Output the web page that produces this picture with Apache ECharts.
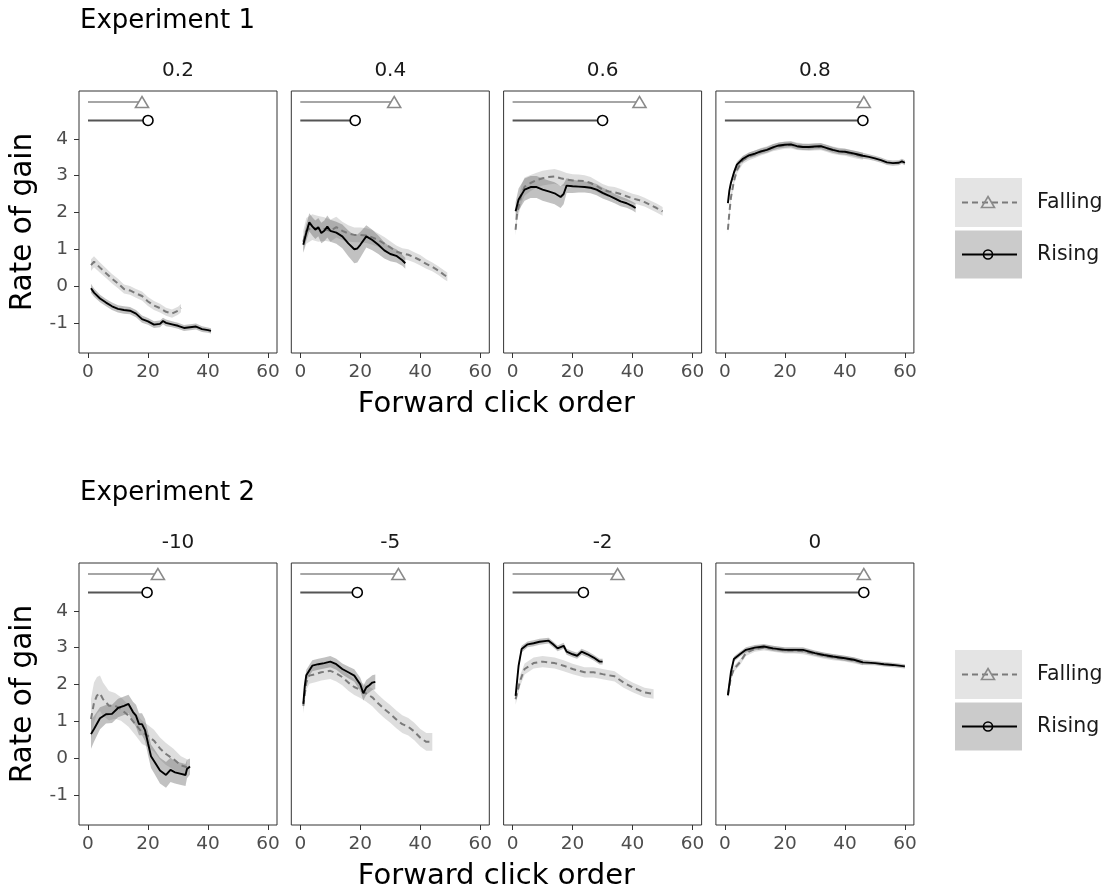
<!DOCTYPE html>
<html>
<head>
<meta charset="utf-8">
<script src="https://cdn.jsdelivr.net/npm/echarts@6/dist/echarts.min.js"></script>
<style>
  html, body { margin: 0; padding: 0; background: #ffffff; }
  #chart { width: 1110px; height: 890px; }
</style>
</head>
<body>
<div id="chart"></div>
<script>
// ---- Facets, ticks, labels ----
const experiments = ['Experiment 1', 'Experiment 2'];
const facetsE1 = ['0.2', '0.4', '0.6', '0.8'];
const facetsE2 = ['-10', '-5', '-2', '0'];
const groups = ['Falling', 'Rising'];
const xTicks = [0, 20, 40, 60];
const yTicks = [-1, 0, 1, 2, 3, 4];
const xTitle = 'Forward click order';
const yTitle = 'Rate of gain';

// ---- Curves: [click order, mean rate of gain, half-width of band] ----
// Experiment 1
const rise_e1_02 = [[1,-0.06,0.12],[2,-0.18,0.11],[4,-0.34,0.1],[6,-0.45,0.1],[8,-0.55,0.1],[10,-0.62,0.1],[12,-0.65,0.1],[14,-0.67,0.1],[16,-0.75,0.1],[18,-0.9,0.1],[20,-0.96,0.09],[22,-1.05,0.09],[24,-1.03,0.09],[25,-0.95,0.09],[26,-1.0,0.09],[28,-1.04,0.08],[30,-1.08,0.08],[32,-1.14,0.08],[34,-1.12,0.08],[36,-1.1,0.08],[38,-1.17,0.08],[40,-1.2,0.07],[41,-1.22,0.07]];
const fall_e1_02 = [[1,0.57,0.16],[2,0.66,0.15],[4,0.5,0.14],[6,0.35,0.13],[8,0.2,0.13],[10,0.07,0.13],[12,-0.08,0.12],[14,-0.12,0.12],[16,-0.2,0.12],[18,-0.27,0.12],[20,-0.42,0.12],[22,-0.53,0.12],[24,-0.6,0.12],[26,-0.7,0.11],[28,-0.75,0.11],[30,-0.67,0.11],[31,-0.6,0.11]];

const rise_e1_04 = [[1,1.12,0.2],[2,1.45,0.22],[3,1.73,0.25],[4,1.62,0.25],[5,1.53,0.25],[6,1.6,0.25],[7,1.44,0.28],[8,1.5,0.28],[9,1.62,0.3],[10,1.5,0.3],[12,1.45,0.3],[14,1.35,0.32],[16,1.16,0.35],[18,1.0,0.38],[19,1.02,0.38],[20,1.12,0.35],[22,1.35,0.3],[24,1.25,0.28],[26,1.12,0.25],[28,0.97,0.22],[30,0.87,0.2],[32,0.82,0.18],[34,0.7,0.15],[35,0.62,0.15]];
const fall_e1_04 = [[1,1.2,0.3],[2,1.5,0.35],[4,1.6,0.35],[6,1.55,0.35],[8,1.55,0.32],[10,1.5,0.3],[12,1.6,0.28],[14,1.5,0.25],[16,1.43,0.22],[18,1.39,0.2],[20,1.39,0.2],[22,1.37,0.2],[24,1.32,0.2],[26,1.25,0.18],[28,1.15,0.18],[30,1.05,0.17],[32,0.94,0.16],[34,0.88,0.15],[36,0.85,0.15],[38,0.78,0.14],[40,0.7,0.14],[42,0.6,0.13],[44,0.52,0.12],[46,0.42,0.12],[48,0.3,0.12],[49,0.25,0.12]];

const rise_e1_06 = [[1,2.03,0.25],[2,2.35,0.3],[4,2.62,0.3],[6,2.69,0.3],[8,2.69,0.3],[10,2.62,0.3],[12,2.57,0.3],[14,2.52,0.3],[16,2.42,0.3],[17,2.5,0.28],[18,2.73,0.2],[20,2.71,0.18],[22,2.7,0.16],[24,2.69,0.15],[26,2.67,0.15],[28,2.62,0.15],[30,2.53,0.15],[32,2.46,0.14],[34,2.38,0.13],[36,2.3,0.13],[38,2.25,0.12],[40,2.17,0.12],[41,2.12,0.12]];
const fall_e1_06 = [[1,1.53,0.15],[1.5,1.98,0.2],[3,2.5,0.25],[4,2.7,0.25],[6,2.8,0.22],[8,2.88,0.2],[10,2.93,0.2],[12,2.96,0.2],[14,2.98,0.2],[16,2.93,0.2],[18,2.89,0.18],[20,2.87,0.17],[22,2.86,0.17],[24,2.85,0.16],[26,2.8,0.16],[28,2.72,0.15],[30,2.62,0.15],[32,2.57,0.14],[34,2.55,0.14],[36,2.5,0.14],[38,2.44,0.13],[40,2.38,0.13],[42,2.34,0.13],[44,2.28,0.12],[46,2.2,0.12],[48,2.12,0.12],[50,2.03,0.12]];

const rise_e1_08 = [[1,2.25,0.08],[1.5,2.6,0.08],[2,2.8,0.08],[3,3.08,0.08],[4,3.3,0.08],[6,3.46,0.08],[8,3.55,0.08],[10,3.6,0.08],[12,3.66,0.08],[14,3.7,0.08],[16,3.77,0.08],[18,3.82,0.08],[20,3.84,0.08],[22,3.85,0.08],[24,3.8,0.08],[26,3.78,0.08],[28,3.78,0.08],[30,3.79,0.08],[32,3.8,0.08],[34,3.75,0.08],[36,3.7,0.08],[38,3.66,0.08],[40,3.65,0.08],[42,3.62,0.08],[44,3.58,0.08],[46,3.54,0.08],[48,3.51,0.07],[50,3.47,0.07],[52,3.42,0.07],[54,3.36,0.07],[56,3.34,0.07],[58,3.35,0.07],[59,3.39,0.07],[60,3.35,0.07]];
const fall_e1_08 = [[1,1.53,0.1],[1.5,2.0,0.1],[2,2.4,0.1],[3,2.85,0.1],[4,3.15,0.1],[6,3.42,0.1],[8,3.52,0.1],[10,3.58,0.1],[12,3.65,0.1],[14,3.7,0.1],[16,3.76,0.1],[18,3.8,0.1],[20,3.83,0.1],[22,3.84,0.1],[24,3.8,0.1],[26,3.78,0.1],[28,3.77,0.1],[30,3.78,0.1],[32,3.79,0.1],[34,3.74,0.1],[36,3.69,0.1],[38,3.66,0.1],[40,3.64,0.1],[42,3.6,0.1],[44,3.56,0.1],[46,3.53,0.1]];

// Experiment 2
const rise_e2_m10 = [[1,0.65,0.4],[2,0.79,0.35],[4,1.08,0.3],[6,1.19,0.25],[8,1.2,0.25],[10,1.36,0.25],[12,1.42,0.25],[13.5,1.47,0.25],[15,1.25,0.28],[16,1.15,0.3],[17,0.92,0.3],[18,0.92,0.3],[19,0.76,0.3],[20,0.4,0.32],[21,0.05,0.32],[22,-0.08,0.33],[24,-0.34,0.35],[26,-0.46,0.35],[27.5,-0.32,0.33],[29,-0.39,0.3],[31,-0.43,0.3],[32.5,-0.46,0.3],[33,-0.3,0.25],[34,-0.23,0.22]];
const fall_e2_m10 = [[1,1.06,0.55],[2,1.5,0.55],[3,1.7,0.5],[4,1.76,0.48],[5,1.6,0.45],[7,1.42,0.4],[9,1.42,0.35],[11,1.33,0.32],[13.5,1.15,0.3],[16,0.9,0.3],[18,0.7,0.32],[20,0.6,0.3],[22,0.47,0.3],[24,0.26,0.3],[26,0.11,0.3],[28.5,-0.03,0.28],[31,-0.2,0.25],[33,-0.25,0.22]];

const rise_e2_m5 = [[1,1.47,0.15],[1.5,1.96,0.15],[2,2.25,0.15],[4,2.51,0.15],[6,2.55,0.15],[8,2.58,0.15],[10,2.62,0.15],[12,2.55,0.15],[14,2.42,0.15],[16,2.33,0.16],[18,2.24,0.17],[20,2.0,0.18],[21,1.76,0.2],[22,1.92,0.2],[23,1.98,0.2],[24,2.05,0.2],[25,2.07,0.2]];
const fall_e2_m5 = [[1,1.42,0.2],[2,2.05,0.2],[3,2.24,0.22],[5,2.28,0.22],[7,2.33,0.22],[10,2.37,0.22],[12,2.3,0.22],[14,2.2,0.22],[16,2.05,0.22],[18,1.93,0.22],[20,1.85,0.22],[22,1.75,0.22],[24,1.65,0.24],[26,1.48,0.24],[28,1.33,0.24],[30,1.2,0.24],[32,1.05,0.24],[34,0.92,0.24],[36,0.85,0.24],[38,0.72,0.24],[40,0.55,0.24],[42,0.44,0.24],[44,0.44,0.24]];

const rise_e2_m2 = [[1,1.69,0.1],[2,2.51,0.1],[3,2.96,0.09],[5,3.09,0.08],[7,3.12,0.08],[9,3.16,0.08],[12,3.19,0.08],[13.5,3.09,0.08],[15,2.98,0.08],[17,3.05,0.08],[18,2.89,0.08],[20,2.82,0.08],[21.5,2.78,0.08],[23,2.89,0.08],[25,2.82,0.08],[27,2.73,0.08],[29,2.62,0.08],[30,2.62,0.08]];
const fall_e2_m2 = [[1,1.6,0.15],[2.5,2.1,0.15],[4,2.42,0.15],[7,2.58,0.15],[10,2.62,0.15],[14,2.58,0.15],[17,2.51,0.15],[20,2.42,0.14],[24,2.33,0.14],[27,2.33,0.14],[30,2.28,0.14],[34,2.22,0.14],[37,2.05,0.14],[40,1.92,0.13],[44,1.78,0.13],[47,1.74,0.13]];

const rise_e2_0 = [[1,1.71,0.07],[2,2.33,0.07],[3,2.69,0.07],[5,2.82,0.07],[7,2.94,0.07],[10,3.0,0.07],[13,3.03,0.07],[16,2.98,0.07],[20,2.94,0.07],[23,2.94,0.07],[26,2.94,0.07],[30,2.85,0.07],[33,2.8,0.07],[36,2.76,0.07],[40,2.71,0.07],[43,2.67,0.07],[46,2.6,0.07],[50,2.58,0.06],[53,2.55,0.06],[56,2.53,0.06],[60,2.49,0.06]];
const fall_e2_0 = [[1,1.7,0.08],[2,2.2,0.08],[3,2.42,0.08],[5,2.6,0.08],[7,2.85,0.08],[10,2.97,0.08],[13,3.0,0.08],[16,2.97,0.08],[20,2.92,0.08],[23,2.92,0.08],[26,2.9,0.08],[30,2.83,0.08],[33,2.78,0.08],[36,2.74,0.08],[40,2.7,0.08],[43,2.65,0.08],[46,2.6,0.08]];

// Extent of clicks per group (range bars at the top of each panel)
const fallEndE1 = [18, 31.3, 42.3, 46.3];
const riseEndE1 = [20, 18.3, 30, 46];
const fallEndE2 = [23.3, 32.7, 35, 46.3];
const riseEndE2 = [19.7, 19, 23.6, 46.3];
const fallRangeY = 5;
const riseRangeY = 4.5;

// ---- Layout & styles ----
const FONT = 'DejaVu Sans';
const GRID_LEFT = 79, GRID_STEP = 212.3, GRID_W = 198;
const GRID_TOP = 91, ROW_STEP = 472, GRID_H = 262;
const X_MIN = -3, X_MAX = 63, Y_MIN = -1.82, Y_MAX = 5.3;
const FALL_FILL = 'rgba(128,128,128,0.26)';
const RISE_FILL = 'rgba(100,100,100,0.40)';
const FALL_LINE = '#7a7a7a';
const RISE_LINE = '#000000';

const panels = [];
[[facetsE1, [rise_e1_02, rise_e1_04, rise_e1_06, rise_e1_08], [fall_e1_02, fall_e1_04, fall_e1_06, fall_e1_08], riseEndE1, fallEndE1],
 [facetsE2, [rise_e2_m10, rise_e2_m5, rise_e2_m2, rise_e2_0], [fall_e2_m10, fall_e2_m5, fall_e2_m2, fall_e2_0], riseEndE2, fallEndE2]]
  .forEach(([facets, rises, falls, riseEnds, fallEnds], row) => {
    facets.forEach((f, col) => panels.push({
      row, col, facet: f, rise: rises[col], fall: falls[col],
      riseEnd: riseEnds[col], fallEnd: fallEnds[col]
    }));
  });

function bandSeries(i, curve, fill) {
  return {
    type: 'custom', xAxisIndex: i, yAxisIndex: i, silent: true, z: 1,
    data: curve.map(d => [d[0], d[1]]),
    encode: { x: 0, y: 1 },
    renderItem(params, api) {
      if (params.dataIndex !== 0) return null;
      const upper = curve.map(d => api.coord([d[0], d[1] + d[2]]));
      const lower = curve.map(d => api.coord([d[0], d[1] - d[2]])).reverse();
      return { type: 'polygon', shape: { points: upper.concat(lower) }, style: { fill } };
    }
  };
}

function meanSeries(i, curve, color, dashed) {
  return {
    type: 'line', xAxisIndex: i, yAxisIndex: i, silent: true, z: 3,
    data: curve.map(d => [d[0], d[1]]),
    symbol: 'none', showSymbol: false,
    lineStyle: { color, width: dashed ? 2 : 1.9, type: dashed ? [6, 4] : 'solid' }
  };
}

function rangeSeries(i, level, end, lineColor, symbol, symbolSize, markColor) {
  return {
    type: 'line', xAxisIndex: i, yAxisIndex: i, silent: true, z: 4,
    data: [{ value: [0, level], symbol: 'none' }, { value: [end, level] }],
    symbol, symbolSize, showSymbol: true,
    itemStyle: { color: '#ffffff', borderColor: markColor, borderWidth: 1.6 },
    lineStyle: { color: lineColor, width: 2 }
  };
}

const grid = [], xAxis = [], yAxis = [], series = [], graphic = [];
const tickStyle = { color: '#333333', width: 1 };
const labelStyle = { color: '#4d4d4d', fontSize: 18.5, fontFamily: FONT };

panels.forEach((p, i) => {
  const left = GRID_LEFT + p.col * GRID_STEP;
  const top = GRID_TOP + p.row * ROW_STEP;
  grid.push({ left, top, width: GRID_W, height: GRID_H, show: true,
    borderColor: '#333333', borderWidth: 1, backgroundColor: '#ffffff', outerBoundsMode: 'none' });
  xAxis.push({
    type: 'value', gridIndex: i, min: X_MIN, max: X_MAX, position: 'bottom',
    axisLine: { show: false, onZero: false }, splitLine: { show: false },
    axisTick: { show: true, inside: false, length: 5, lineStyle: tickStyle, customValues: xTicks },
    axisLabel: Object.assign({ customValues: xTicks, margin: 10 }, labelStyle)
  });
  yAxis.push({
    type: 'value', gridIndex: i, min: Y_MIN, max: Y_MAX, position: 'left',
    axisLine: { show: false, onZero: false }, splitLine: { show: false },
    axisTick: { show: p.col === 0, inside: false, length: 5, lineStyle: tickStyle, customValues: yTicks },
    axisLabel: Object.assign({ show: p.col === 0, customValues: yTicks, margin: 11 }, labelStyle)
  });
  series.push(
    bandSeries(i, p.fall, FALL_FILL),
    bandSeries(i, p.rise, RISE_FILL),
    meanSeries(i, p.fall, FALL_LINE, true),
    meanSeries(i, p.rise, RISE_LINE, false),
    rangeSeries(i, fallRangeY, p.fallEnd, '#a6a6a6', 'triangle', [13, 11], '#8a8a8a'),
    rangeSeries(i, riseRangeY, p.riseEnd, '#555555', 'circle', 10, '#000000')
  );
  // facet strip label
  graphic.push({ type: 'text', x: left + GRID_W / 2, y: top - 20.5, silent: true,
    style: { text: p.facet, font: '20px "' + FONT + '"', fill: '#1a1a1a', textAlign: 'center', textVerticalAlign: 'middle' } });
});

// Row titles, axis titles and legends
experiments.forEach((name, row) => {
  const off = row * ROW_STEP;
  graphic.push({ type: 'text', x: 80, y: 21.5 + off, silent: true,
    style: { text: name, font: '26px "' + FONT + '"', fill: '#000000', textAlign: 'left', textVerticalAlign: 'middle' } });
  graphic.push({ type: 'text', x: 23, y: GRID_TOP + GRID_H / 2 + off, rotation: Math.PI / 2, silent: true,
    style: { text: yTitle, font: '29.5px "' + FONT + '"', fill: '#000000', textAlign: 'center', textVerticalAlign: 'middle' } });
  graphic.push({ type: 'text', x: GRID_LEFT + (3 * GRID_STEP + GRID_W) / 2, y: 404 + off, silent: true,
    style: { text: xTitle, font: '29px "' + FONT + '"', fill: '#000000', textAlign: 'center', textVerticalAlign: 'middle' } });

  // legend key: Falling
  const fy = 202.5 + off, ry = 254.5 + off;
  graphic.push({ type: 'rect', shape: { x: 955, y: fy - 24.5, width: 67, height: 49 }, style: { fill: '#e4e4e4' }, silent: true });
  graphic.push({ type: 'line', shape: { x1: 962, y1: fy, x2: 1017, y2: fy }, style: { stroke: FALL_LINE, lineWidth: 2, lineDash: [6, 4] }, silent: true });
  graphic.push({ type: 'polygon', shape: { points: [[988, fy - 6], [994.5, fy + 5], [981.5, fy + 5]] },
    style: { fill: 'rgba(0,0,0,0)', stroke: '#8a8a8a', lineWidth: 1.6 }, silent: true });
  graphic.push({ type: 'text', x: 1037, y: fy, silent: true,
    style: { text: groups[0], font: '20.5px "' + FONT + '"', fill: '#1a1a1a', textAlign: 'left', textVerticalAlign: 'middle' } });
  // legend key: Rising
  graphic.push({ type: 'rect', shape: { x: 955, y: ry - 24, width: 67, height: 48 }, style: { fill: '#cbcbcb' }, silent: true });
  graphic.push({ type: 'line', shape: { x1: 962, y1: ry, x2: 1017, y2: ry }, style: { stroke: RISE_LINE, lineWidth: 2 }, silent: true });
  graphic.push({ type: 'circle', shape: { cx: 988, cy: ry, r: 4.5 }, style: { fill: 'rgba(0,0,0,0)', stroke: '#000000', lineWidth: 1.6 }, silent: true });
  graphic.push({ type: 'text', x: 1037, y: ry, silent: true,
    style: { text: groups[1], font: '20.5px "' + FONT + '"', fill: '#1a1a1a', textAlign: 'left', textVerticalAlign: 'middle' } });
});

const chart = echarts.init(document.getElementById('chart'), null, { renderer: 'canvas' });
chart.setOption({
  animation: false,
  backgroundColor: '#ffffff',
  grid, xAxis, yAxis, series, graphic
});
</script>
</body>
</html>
